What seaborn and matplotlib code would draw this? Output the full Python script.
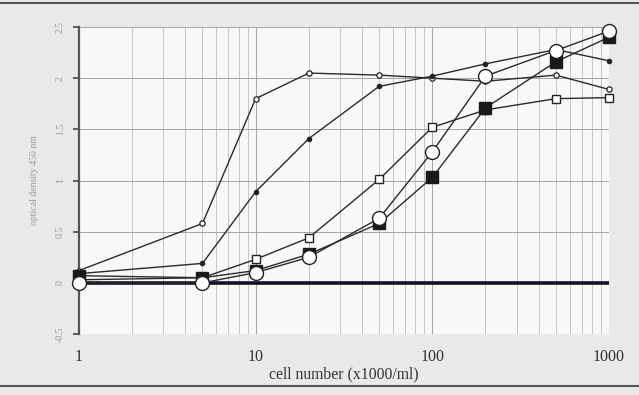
import matplotlib
matplotlib.use("Agg")
import matplotlib.pyplot as plt
import matplotlib.lines as mlines
import seaborn as sns
import pandas as pd
import numpy as np
from matplotlib.ticker import FixedLocator, NullFormatter, FixedFormatter

cells = [1, 5, 10, 20, 50, 100, 200, 500, 1000]
s_small_open_circle = [0.12, 0.58, 1.80, 2.05, 2.03, 2.00, 1.97, 2.03, 1.89]
s_small_filled_dot = [0.09, 0.19, 0.89, 1.41, 1.92, 2.02, 2.14, 2.28, 2.17]
s_open_square = [0.03, 0.05, 0.23, 0.44, 1.01, 1.52, 1.69, 1.80, 1.81]
s_large_open_circle = [0.00, 0.00, 0.10, 0.25, 0.63, 1.28, 2.02, 2.27, 2.46]
s_large_filled_square = [0.07, 0.05, 0.12, 0.28, 0.58, 1.03, 1.71, 2.16, 2.40]

y_ticks = [-0.5, 0, 0.5, 1, 1.5, 2, 2.5]
y_tick_labels = ["-0.5", "0", "0.5", "1", "1.5", "2", "2.5"]
x_ticks = [1, 10, 100, 1000]
x_tick_labels = ["1", "10", "100", "1000"]

sns.set_style("white")
plt.rcParams['font.family'] = ['Liberation Serif', 'DejaVu Serif']

fig = plt.figure(figsize=(6.39, 3.95), dpi=100, facecolor='#e9e9e7')
ax = fig.add_axes([0.1236, 0.1544, 0.953 - 0.1236, 0.9316 - 0.1544])
ax.set_facecolor('#f8f8f6')

series = [
    ("s1", s_small_open_circle, dict(marker='o', markersize=3.8, mfc='white', mec='#222', mew=0.9)),
    ("s2", s_small_filled_dot, dict(marker='o', markersize=3.2, mfc='#222', mec='#222', mew=0.8)),
    ("s3", s_open_square, dict(marker='s', markersize=5.5, mfc='white', mec='#222', mew=1.0)),
    ("s5", s_large_filled_square, dict(marker='s', markersize=9, mfc='#1a1a1a', mec='#1a1a1a', mew=1.0)),
    ("s4", s_large_open_circle, dict(marker='o', markersize=10, mfc='white', mec='#222', mew=1.0)),
]

for name, vals, st in series:
    df = pd.DataFrame({"cells": cells, "od": vals})
    sns.lineplot(data=df, x="cells", y="od", ax=ax, color='#2a2a2a', linewidth=1.0,
                 marker=st['marker'], markersize=st['markersize'],
                 markerfacecolor=st['mfc'], markeredgecolor=st['mec'],
                 markeredgewidth=st['mew'], zorder=3, clip_on=False)

ax.set_xscale('log')
ax.set_xlim(1, 1000)
ax.set_ylim(-0.5, 2.5)

minor = [m * 10 ** e for e in range(0, 3) for m in range(2, 10)]
ax.xaxis.set_major_locator(FixedLocator(x_ticks))
ax.xaxis.set_major_formatter(FixedFormatter(x_tick_labels))
ax.xaxis.set_minor_locator(FixedLocator(minor))
ax.xaxis.set_minor_formatter(NullFormatter())
ax.set_yticks(y_ticks)
ax.set_yticklabels(y_tick_labels, rotation=90, va='center', color='#9a9a9a', fontsize=7)

ax.grid(True, which='major', axis='both', color='#a4a4a4', linewidth=0.7)
ax.grid(True, which='minor', axis='x', color='#bdbdbd', linewidth=0.6)

ax.axhline(0, color='#111122', linewidth=2.6, zorder=2)

for side in ['top', 'right', 'bottom']:
    ax.spines[side].set_visible(False)
ax.spines['left'].set_color('#555555')
ax.spines['left'].set_linewidth(1.6)

ax.tick_params(axis='y', which='major', left=True, length=4, width=1.2, color='#444', pad=6)
ax.tick_params(axis='x', which='both', bottom=False, labelsize=11.5, pad=7, colors='#333')

ax.set_xlabel("cell number (x1000/ml)", fontsize=11.3, color='#333', labelpad=1)
ax.set_ylabel("optical density 450 nm", fontsize=7, color='#9a9a9a', labelpad=12)

fig.add_artist(mlines.Line2D([0, 1], [0.992, 0.992], transform=fig.transFigure, color='#555', linewidth=1.5))
fig.add_artist(mlines.Line2D([0, 1], [0.023, 0.023], transform=fig.transFigure, color='#555', linewidth=1.5))

fig.savefig("out.png", dpi=100, facecolor=fig.get_facecolor())
